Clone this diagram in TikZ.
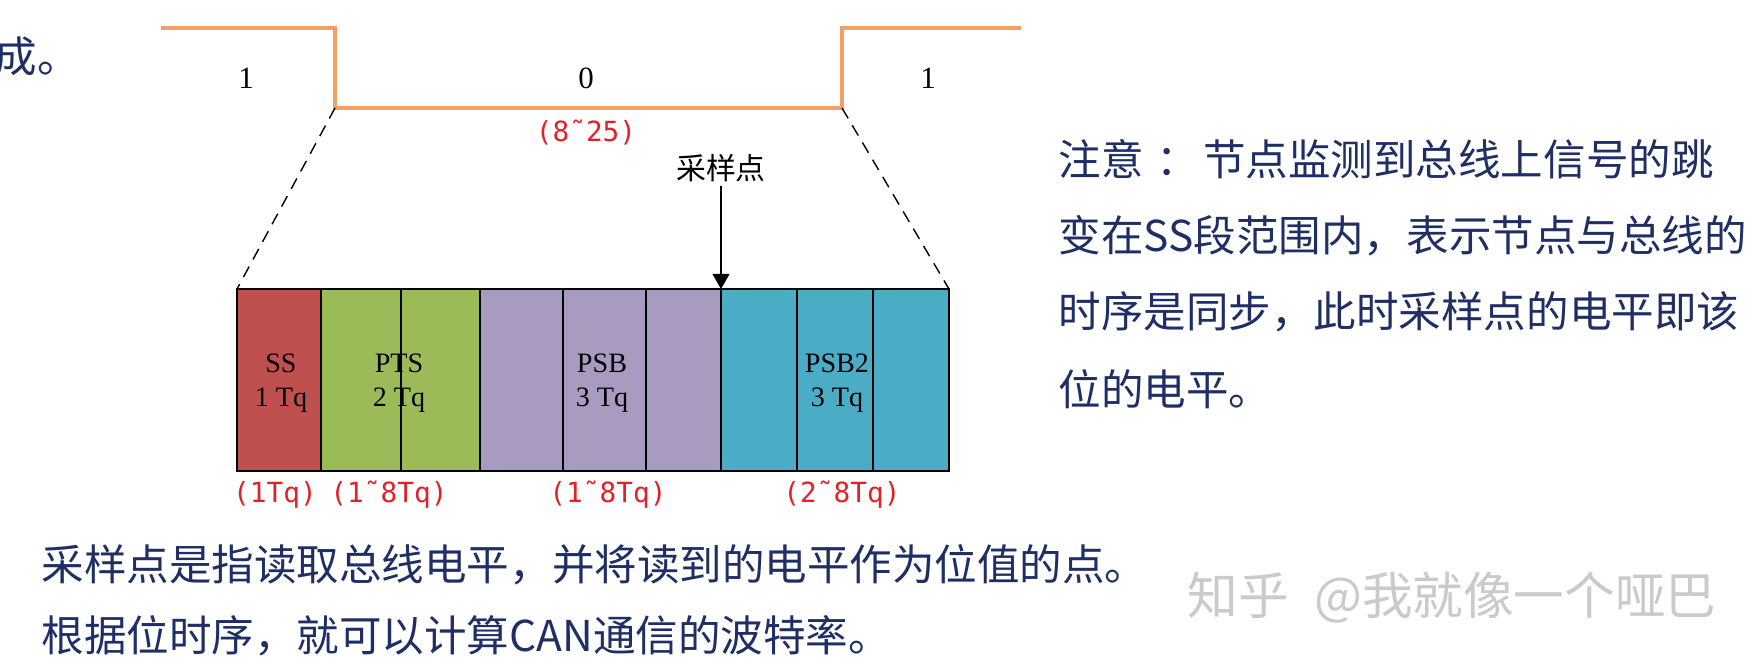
\documentclass[tikz,border=0pt]{standalone}
\usepackage{fontspec}
\setmainfont{Liberation Serif}
\newfontfamily\cjk{Noto Sans CJK SC}
\newfontfamily\redmono{DejaVu Sans Mono}
\usetikzlibrary{arrows.meta}
\definecolor{wave}{HTML}{F2A065}
\definecolor{ssred}{HTML}{C0504D}
\definecolor{ptsgreen}{HTML}{9BBB59}
\definecolor{psbpurple}{HTML}{A99BC0}
\definecolor{psbblue}{HTML}{4BACC6}
\definecolor{navy}{HTML}{1F2F66}
\definecolor{redtxt}{HTML}{E3202A}
\definecolor{wmgray}{HTML}{CACACA}

\begin{document}
\begin{tikzpicture}[x=0.1mm, y=-0.1mm,
  cell/.style={draw=black, line width=0.45pt, anchor=north west,
               inner sep=0pt, outer sep=0pt, minimum height=18.2mm},
  rng/.style={text=redtxt, inner sep=0pt, font=\redmono\fontsize{7.9}{9}\selectfont},
  note/.style={text=navy, anchor=west, inner sep=0pt,
               font=\cjk\fontsize{12.1}{14}\selectfont}]
\useasboundingbox (0,0) rectangle (1764,669);

% bit levels
\coordinate (w0) at (161,28);
\coordinate (w1) at (335,28);
\coordinate (w2) at (335,108);
\coordinate (w3) at (842,108);
\coordinate (w4) at (842,28);
\coordinate (w5) at (1021,28);
\draw[wave, line width=1.15pt] (w0) -- (w1) -- (w2) -- (w3) -- (w4) -- (w5);
\begin{scope}[every node/.style={font=\fontsize{8.8}{10}\selectfont}]
  \node (b1) at (246,78) {1};
  \node (b0) at (586,78) {0};
  \node (b2) at (928,78) {1};
\end{scope}
\node[rng] (len) at (586,133) {(8˜25)};

% time quanta
\foreach \l/\r/\c [count=\i] in {237/321/ssred, 321/401/ptsgreen, 401/480/ptsgreen,
    480/563/psbpurple, 563/646/psbpurple, 646/721/psbpurple,
    721/797/psbblue, 797/873/psbblue, 873/949/psbblue}
  \node[cell, fill=\c, minimum width={(\r-\l)*0.1mm}] (c\i) at (\l,289) {};

\draw[line width=0.4pt, dash pattern=on 3.4pt off 2.3pt] (w2) -- (c1.north west);
\draw[line width=0.4pt, dash pattern=on 3.4pt off 2.3pt] (w3) -- (c9.north east);

\begin{scope}[every node/.style={align=center, font=\fontsize{8}{9.8}\selectfont}]
  \node (ss)   at (281,383) {SS\\1 Tq};
  \node (pts)  at (399,383) {PTS\\2 Tq};
  \node (psb)  at (602,383) {PSB\\3 Tq};
  \node (psb2) at (837,383) {PSB2\\3 Tq};
\end{scope}

\node[rng] (r1) at (275,495) {(1Tq)};
\node[rng] (r2) at (389,495) {(1˜8Tq)};
\node[rng] (r3) at (608,495) {(1˜8Tq)};
\node[rng] (r4) at (842,495) {(2˜8Tq)};

% sample point
\node[inner sep=1pt, font=\cjk\fontsize{8.5}{10}\selectfont] (samp) at (721,168) {采样点};
\draw[line width=0.5pt, -{Triangle[length=4.3pt,width=4.8pt]}] (samp.south) -- (c6.north east);

% notes
\node[note] (top) at (-6,57) {成。};
\node[note] (n1) at (1058,159) {注意\hspace{0.3em}：\hspace{0.1em}节点监测到总线上信号的跳};
\node[note] (n2) at (1058,236) {变在SS段范围内，表示节点与总线的};
\node[note] (n3) at (1058,312) {时序是同步，此时采样点的电平即该};
\node[note] (n4) at (1058,389) {位的电平。};
\node[note] (s1) at (41,565) {采样点是指读取总线电平，并将读到的电平作为位值的点。};
\node[note] (s2) at (41,636) {根据位时序，就可以计算CAN通信的波特率。};
\node[anchor=west, inner sep=0pt, text=wmgray, font=\cjk\fontsize{14.4}{16}\selectfont]
  (wm) at (1187,598) {知乎\hspace{0.5em}@我就像一个哑巴};
\end{tikzpicture}
\end{document}
